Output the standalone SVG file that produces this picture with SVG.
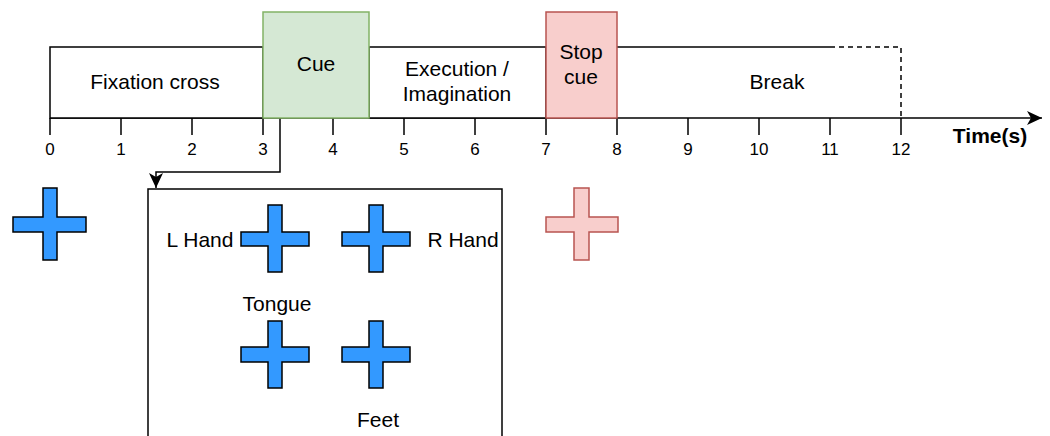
<svg xmlns="http://www.w3.org/2000/svg" width="1050" height="436" viewBox="0 0 1050 436">
<defs>
<style>
text{font-family:"Liberation Sans",Arial,sans-serif;fill:#000}
.lbl{font-size:21px;text-anchor:middle}
.tk{font-size:17px;text-anchor:middle}
.ln{stroke:#000;stroke-width:1.5;fill:none}
.box{stroke:#000;stroke-width:1.5;fill:#fff}
.blue{fill:#3399ff;stroke:#000;stroke-width:1.5}
.red{fill:#f8cecc;stroke:#b85450;stroke-width:1.5}
</style>
<marker id="arr" viewBox="0 0 16 16" refX="15" refY="8" markerWidth="16" markerHeight="16" markerUnits="userSpaceOnUse" orient="auto">
<path d="M0,1 L15,8 L0,15 L4,8 Z" fill="#000"/>
</marker>
</defs>
<g id="connectors">
<path class="ln" d="M50,118 H1042" marker-end="url(#arr)"/>
<path class="ln" d="M280,118 V172 H156 V188" marker-end="url(#arr)"/>
<g class="ln">
<path d="M50,118V135M121,118V135M192,118V135M263,118V135M333,118V135M404,118V135M475,118V135M546,118V135M617,118V135M688,118V135M759,118V135M830,118V135M901,118V135"/>
</g>
</g>
<g id="fixation"><rect class="box" x="50" y="47" width="213" height="71"/><text class="lbl" x="155" y="89">Fixation cross</text></g>
<g id="execution"><rect class="box" x="369" y="47" width="177" height="71"/><text class="lbl" x="457" y="76">Execution /</text><text class="lbl" x="457" y="101">Imagination</text></g>
<g id="break"><path class="ln" d="M617,47 H830"/><path class="ln" d="M830,47 H901 V118" stroke-dasharray="5 4"/><text class="lbl" x="777" y="89">Break</text></g>
<g id="cue"><rect x="263" y="12" width="106" height="106" fill="#d5e8d4" stroke="#82b366" stroke-width="1.5"/><text class="lbl" x="316" y="71">Cue</text></g>
<g id="stopcue"><rect class="red" x="546" y="12" width="71" height="106"/><text class="lbl" x="581" y="59">Stop</text><text class="lbl" x="581" y="84">cue</text></g>
<g id="ticks">
<text class="tk" x="50" y="155">0</text><text class="tk" x="121" y="155">1</text><text class="tk" x="192" y="155">2</text><text class="tk" x="263" y="155">3</text><text class="tk" x="333" y="155">4</text><text class="tk" x="404" y="155">5</text><text class="tk" x="475" y="155">6</text><text class="tk" x="546" y="155">7</text><text class="tk" x="617" y="155">8</text><text class="tk" x="688" y="155">9</text><text class="tk" x="759" y="155">10</text><text class="tk" x="830" y="155">11</text><text class="tk" x="901" y="155">12</text>
<text x="990" y="143" style="font-size:21px;font-weight:bold;text-anchor:middle">Time(s)</text>
</g>
<g id="fixation-cross"><polygon class="blue" points="43,188 57,188 57,217 86,217 86,232 57,232 57,260 43,260 43,232 13,232 13,217 43,217"/></g>
<g id="stop-cross"><polygon class="red" points="574,188 589,188 589,217 618,217 618,232 589,232 589,260 574,260 574,232 546,232 546,217 574,217"/></g>
<g id="cue-panel">
<rect class="box" x="148" y="189" width="354" height="260"/>
<polygon class="blue" points="268,205 282,205 282,232 309,232 309,246 282,246 282,272 268,272 268,246 241,246 241,232 268,232"/>
<polygon class="blue" points="369,205 383,205 383,232 410,232 410,246 383,246 383,272 369,272 369,246 342,246 342,232 369,232"/>
<polygon class="blue" points="268,321 282,321 282,347 309,347 309,362 282,362 282,388 268,388 268,362 241,362 241,347 268,347"/>
<polygon class="blue" points="369,321 383,321 383,347 410,347 410,362 383,362 383,388 369,388 369,362 342,362 342,347 369,347"/>
<text class="lbl" x="200" y="247">L Hand</text>
<text class="lbl" x="463" y="247">R Hand</text>
<text class="lbl" x="277" y="311">Tongue</text>
<text class="lbl" x="378" y="427">Feet</text>
</g>
</svg>
